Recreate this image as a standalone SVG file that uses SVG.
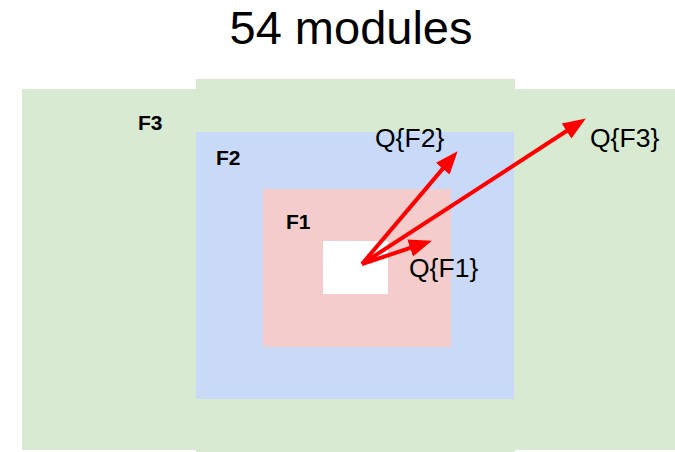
<svg xmlns="http://www.w3.org/2000/svg" width="675" height="452" viewBox="0 0 675 452">
  <style>
    .title { font-family: "Liberation Sans", Arial, sans-serif; font-size: 47px; fill: #000; }
    .zone { font-family: "Liberation Sans", Arial, sans-serif; font-size: 21px; font-weight: bold; fill: #000; }
    .q { font-family: "Liberation Sans", Arial, sans-serif; font-size: 26.5px; fill: #000; }
    .arrow { stroke: #ff0000; stroke-width: 4; fill: none; marker-end: url(#head); }
  </style>
  <defs>
    <marker id="head" markerUnits="userSpaceOnUse" markerWidth="24" markerHeight="20" viewBox="0 0 24 20" refX="12" refY="9" orient="auto">
      <path d="M0,0 L23,9 L0,18 z" fill="#ff0000"/>
    </marker>
  </defs>

  <rect width="675" height="452" fill="#ffffff"/>

  <text class="title" x="351" y="44" text-anchor="middle">54 modules</text>

  <!-- outer zone: wide band plus taller central column -->
  <g id="F3">
    <rect x="22" y="89" width="653" height="361" fill="#d9ead3"/>
    <rect x="196" y="79" width="319" height="373" fill="#d9ead3"/>
    <text class="zone" x="138" y="130">F3</text>
  </g>

  <g id="F2">
    <rect x="196" y="132" width="318" height="267" fill="#c9daf8"/>
    <text class="zone" x="216" y="165">F2</text>
  </g>

  <g id="F1">
    <rect x="263" y="189" width="188" height="158" fill="#f4cccc"/>
    <text class="zone" x="286" y="229">F1</text>
  </g>

  <g id="core">
    <rect x="323" y="241" width="65" height="53" fill="#ffffff"/>
  </g>

  <g id="connectors">
    <line class="arrow" x1="362" y1="264" x2="450.5" y2="159.6"/>
    <line class="arrow" x1="362" y1="264" x2="576.6" y2="124.5"/>
    <line class="arrow" x1="362" y1="264" x2="421.5" y2="244.2"/>
  </g>

  <g id="labels">
    <text class="q" x="375" y="147">Q{F2}</text>
    <text class="q" x="590" y="147">Q{F3}</text>
    <text class="q" x="409" y="277">Q{F1}</text>
  </g>
</svg>
